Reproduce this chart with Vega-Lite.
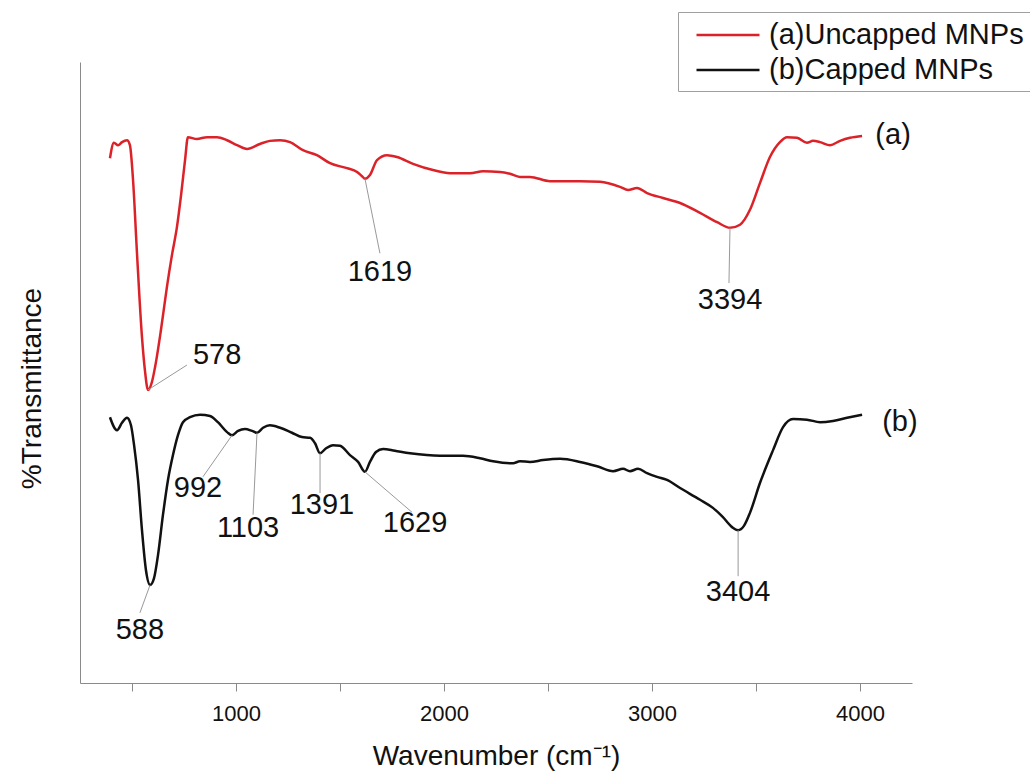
{
  "$schema": "https://vega.github.io/schema/vega-lite/v6.json",
  "autosize": {"type": "none"},
  "width": 832,
  "height": 621,
  "padding": {"left": 80, "top": 62, "right": 118, "bottom": 93},
  "background": "white",
  "config": {
    "font": "Liberation Sans",
    "view": {"stroke": null},
    "axis": {"grid": false, "domainColor": "#8a8a8a", "tickColor": "#8a8a8a", "labelColor": "#111", "titleColor": "#111", "titleFontWeight": "normal"}
  },
  "datasets": {
    "spectra": [
      {"series": "(a)Uncapped MNPs", "w": 394, "t": 84.5},
      {"series": "(a)Uncapped MNPs", "w": 413, "t": 87.0},
      {"series": "(a)Uncapped MNPs", "w": 433, "t": 86.6},
      {"series": "(a)Uncapped MNPs", "w": 452, "t": 87.1},
      {"series": "(a)Uncapped MNPs", "w": 476, "t": 87.4},
      {"series": "(a)Uncapped MNPs", "w": 490, "t": 86.6},
      {"series": "(a)Uncapped MNPs", "w": 505, "t": 81.0},
      {"series": "(a)Uncapped MNPs", "w": 524, "t": 69.2},
      {"series": "(a)Uncapped MNPs", "w": 548, "t": 55.7},
      {"series": "(a)Uncapped MNPs", "w": 562, "t": 50.4},
      {"series": "(a)Uncapped MNPs", "w": 577, "t": 47.2},
      {"series": "(a)Uncapped MNPs", "w": 596, "t": 48.5},
      {"series": "(a)Uncapped MNPs", "w": 611, "t": 50.9},
      {"series": "(a)Uncapped MNPs", "w": 639, "t": 56.8},
      {"series": "(a)Uncapped MNPs", "w": 668, "t": 63.8},
      {"series": "(a)Uncapped MNPs", "w": 692, "t": 68.9},
      {"series": "(a)Uncapped MNPs", "w": 716, "t": 73.4},
      {"series": "(a)Uncapped MNPs", "w": 736, "t": 78.6},
      {"series": "(a)Uncapped MNPs", "w": 755, "t": 84.2},
      {"series": "(a)Uncapped MNPs", "w": 769, "t": 87.9},
      {"series": "(a)Uncapped MNPs", "w": 812, "t": 87.6},
      {"series": "(a)Uncapped MNPs", "w": 861, "t": 87.9},
      {"series": "(a)Uncapped MNPs", "w": 909, "t": 87.9},
      {"series": "(a)Uncapped MNPs", "w": 957, "t": 87.4},
      {"series": "(a)Uncapped MNPs", "w": 1005, "t": 86.6},
      {"series": "(a)Uncapped MNPs", "w": 1053, "t": 86.0},
      {"series": "(a)Uncapped MNPs", "w": 1115, "t": 86.8},
      {"series": "(a)Uncapped MNPs", "w": 1163, "t": 87.3},
      {"series": "(a)Uncapped MNPs", "w": 1212, "t": 87.4},
      {"series": "(a)Uncapped MNPs", "w": 1260, "t": 87.1},
      {"series": "(a)Uncapped MNPs", "w": 1322, "t": 85.8},
      {"series": "(a)Uncapped MNPs", "w": 1389, "t": 85.0},
      {"series": "(a)Uncapped MNPs", "w": 1452, "t": 83.7},
      {"series": "(a)Uncapped MNPs", "w": 1534, "t": 82.9},
      {"series": "(a)Uncapped MNPs", "w": 1582, "t": 82.3},
      {"series": "(a)Uncapped MNPs", "w": 1606, "t": 81.6},
      {"series": "(a)Uncapped MNPs", "w": 1620, "t": 81.2},
      {"series": "(a)Uncapped MNPs", "w": 1644, "t": 81.8},
      {"series": "(a)Uncapped MNPs", "w": 1678, "t": 84.2},
      {"series": "(a)Uncapped MNPs", "w": 1726, "t": 85.0},
      {"series": "(a)Uncapped MNPs", "w": 1774, "t": 84.7},
      {"series": "(a)Uncapped MNPs", "w": 1851, "t": 83.6},
      {"series": "(a)Uncapped MNPs", "w": 1947, "t": 82.6},
      {"series": "(a)Uncapped MNPs", "w": 2029, "t": 82.1},
      {"series": "(a)Uncapped MNPs", "w": 2125, "t": 82.1},
      {"series": "(a)Uncapped MNPs", "w": 2188, "t": 82.4},
      {"series": "(a)Uncapped MNPs", "w": 2269, "t": 82.3},
      {"series": "(a)Uncapped MNPs", "w": 2317, "t": 82.0},
      {"series": "(a)Uncapped MNPs", "w": 2365, "t": 81.5},
      {"series": "(a)Uncapped MNPs", "w": 2413, "t": 81.5},
      {"series": "(a)Uncapped MNPs", "w": 2510, "t": 80.8},
      {"series": "(a)Uncapped MNPs", "w": 2654, "t": 80.8},
      {"series": "(a)Uncapped MNPs", "w": 2750, "t": 80.7},
      {"series": "(a)Uncapped MNPs", "w": 2846, "t": 79.9},
      {"series": "(a)Uncapped MNPs", "w": 2885, "t": 79.4},
      {"series": "(a)Uncapped MNPs", "w": 2928, "t": 79.7},
      {"series": "(a)Uncapped MNPs", "w": 2976, "t": 78.9},
      {"series": "(a)Uncapped MNPs", "w": 3053, "t": 78.1},
      {"series": "(a)Uncapped MNPs", "w": 3135, "t": 77.3},
      {"series": "(a)Uncapped MNPs", "w": 3231, "t": 75.7},
      {"series": "(a)Uncapped MNPs", "w": 3313, "t": 74.2},
      {"series": "(a)Uncapped MNPs", "w": 3375, "t": 73.3},
      {"series": "(a)Uncapped MNPs", "w": 3423, "t": 73.8},
      {"series": "(a)Uncapped MNPs", "w": 3471, "t": 76.2},
      {"series": "(a)Uncapped MNPs", "w": 3519, "t": 80.5},
      {"series": "(a)Uncapped MNPs", "w": 3567, "t": 84.7},
      {"series": "(a)Uncapped MNPs", "w": 3615, "t": 87.1},
      {"series": "(a)Uncapped MNPs", "w": 3649, "t": 87.9},
      {"series": "(a)Uncapped MNPs", "w": 3697, "t": 87.8},
      {"series": "(a)Uncapped MNPs", "w": 3745, "t": 87.0},
      {"series": "(a)Uncapped MNPs", "w": 3774, "t": 87.3},
      {"series": "(a)Uncapped MNPs", "w": 3808, "t": 87.1},
      {"series": "(a)Uncapped MNPs", "w": 3856, "t": 86.6},
      {"series": "(a)Uncapped MNPs", "w": 3904, "t": 87.3},
      {"series": "(a)Uncapped MNPs", "w": 3952, "t": 87.8},
      {"series": "(a)Uncapped MNPs", "w": 4010, "t": 88.1},
      {"series": "(b)Capped MNPs", "w": 394, "t": 42.8},
      {"series": "(b)Capped MNPs", "w": 428, "t": 40.7},
      {"series": "(b)Capped MNPs", "w": 452, "t": 41.9},
      {"series": "(b)Capped MNPs", "w": 476, "t": 42.7},
      {"series": "(b)Capped MNPs", "w": 495, "t": 41.5},
      {"series": "(b)Capped MNPs", "w": 510, "t": 38.3},
      {"series": "(b)Capped MNPs", "w": 529, "t": 32.7},
      {"series": "(b)Capped MNPs", "w": 548, "t": 24.6},
      {"series": "(b)Capped MNPs", "w": 567, "t": 18.2},
      {"series": "(b)Capped MNPs", "w": 587, "t": 15.8},
      {"series": "(b)Capped MNPs", "w": 606, "t": 16.9},
      {"series": "(b)Capped MNPs", "w": 625, "t": 20.6},
      {"series": "(b)Capped MNPs", "w": 649, "t": 27.1},
      {"series": "(b)Capped MNPs", "w": 673, "t": 32.7},
      {"series": "(b)Capped MNPs", "w": 697, "t": 36.7},
      {"series": "(b)Capped MNPs", "w": 721, "t": 39.9},
      {"series": "(b)Capped MNPs", "w": 745, "t": 42.0},
      {"series": "(b)Capped MNPs", "w": 779, "t": 42.8},
      {"series": "(b)Capped MNPs", "w": 827, "t": 43.2},
      {"series": "(b)Capped MNPs", "w": 875, "t": 43.0},
      {"series": "(b)Capped MNPs", "w": 913, "t": 42.0},
      {"series": "(b)Capped MNPs", "w": 957, "t": 40.4},
      {"series": "(b)Capped MNPs", "w": 981, "t": 39.9},
      {"series": "(b)Capped MNPs", "w": 1010, "t": 40.6},
      {"series": "(b)Capped MNPs", "w": 1043, "t": 40.9},
      {"series": "(b)Capped MNPs", "w": 1077, "t": 40.6},
      {"series": "(b)Capped MNPs", "w": 1101, "t": 40.3},
      {"series": "(b)Capped MNPs", "w": 1130, "t": 41.1},
      {"series": "(b)Capped MNPs", "w": 1163, "t": 41.5},
      {"series": "(b)Capped MNPs", "w": 1212, "t": 41.1},
      {"series": "(b)Capped MNPs", "w": 1269, "t": 40.3},
      {"series": "(b)Capped MNPs", "w": 1317, "t": 39.6},
      {"series": "(b)Capped MNPs", "w": 1356, "t": 39.5},
      {"series": "(b)Capped MNPs", "w": 1380, "t": 38.6},
      {"series": "(b)Capped MNPs", "w": 1404, "t": 37.0},
      {"series": "(b)Capped MNPs", "w": 1433, "t": 37.8},
      {"series": "(b)Capped MNPs", "w": 1466, "t": 38.3},
      {"series": "(b)Capped MNPs", "w": 1500, "t": 38.2},
      {"series": "(b)Capped MNPs", "w": 1548, "t": 36.7},
      {"series": "(b)Capped MNPs", "w": 1587, "t": 35.6},
      {"series": "(b)Capped MNPs", "w": 1620, "t": 34.0},
      {"series": "(b)Capped MNPs", "w": 1644, "t": 35.6},
      {"series": "(b)Capped MNPs", "w": 1673, "t": 37.2},
      {"series": "(b)Capped MNPs", "w": 1707, "t": 37.7},
      {"series": "(b)Capped MNPs", "w": 1764, "t": 37.4},
      {"series": "(b)Capped MNPs", "w": 1837, "t": 37.0},
      {"series": "(b)Capped MNPs", "w": 1981, "t": 36.6},
      {"series": "(b)Capped MNPs", "w": 2091, "t": 36.6},
      {"series": "(b)Capped MNPs", "w": 2173, "t": 36.2},
      {"series": "(b)Capped MNPs", "w": 2236, "t": 35.7},
      {"series": "(b)Capped MNPs", "w": 2317, "t": 35.4},
      {"series": "(b)Capped MNPs", "w": 2332, "t": 35.4},
      {"series": "(b)Capped MNPs", "w": 2365, "t": 35.7},
      {"series": "(b)Capped MNPs", "w": 2413, "t": 35.6},
      {"series": "(b)Capped MNPs", "w": 2476, "t": 35.9},
      {"series": "(b)Capped MNPs", "w": 2558, "t": 36.1},
      {"series": "(b)Capped MNPs", "w": 2654, "t": 35.6},
      {"series": "(b)Capped MNPs", "w": 2736, "t": 34.9},
      {"series": "(b)Capped MNPs", "w": 2813, "t": 34.1},
      {"series": "(b)Capped MNPs", "w": 2861, "t": 34.5},
      {"series": "(b)Capped MNPs", "w": 2894, "t": 34.1},
      {"series": "(b)Capped MNPs", "w": 2933, "t": 34.5},
      {"series": "(b)Capped MNPs", "w": 2976, "t": 33.8},
      {"series": "(b)Capped MNPs", "w": 3024, "t": 33.2},
      {"series": "(b)Capped MNPs", "w": 3072, "t": 32.7},
      {"series": "(b)Capped MNPs", "w": 3135, "t": 31.4},
      {"series": "(b)Capped MNPs", "w": 3231, "t": 29.5},
      {"series": "(b)Capped MNPs", "w": 3293, "t": 28.2},
      {"series": "(b)Capped MNPs", "w": 3341, "t": 26.7},
      {"series": "(b)Capped MNPs", "w": 3385, "t": 25.1},
      {"series": "(b)Capped MNPs", "w": 3414, "t": 24.6},
      {"series": "(b)Capped MNPs", "w": 3442, "t": 25.3},
      {"series": "(b)Capped MNPs", "w": 3471, "t": 27.4},
      {"series": "(b)Capped MNPs", "w": 3519, "t": 32.2},
      {"series": "(b)Capped MNPs", "w": 3582, "t": 37.5},
      {"series": "(b)Capped MNPs", "w": 3630, "t": 41.2},
      {"series": "(b)Capped MNPs", "w": 3678, "t": 42.5},
      {"series": "(b)Capped MNPs", "w": 3745, "t": 42.4},
      {"series": "(b)Capped MNPs", "w": 3808, "t": 42.0},
      {"series": "(b)Capped MNPs", "w": 3870, "t": 42.2},
      {"series": "(b)Capped MNPs", "w": 3938, "t": 42.7},
      {"series": "(b)Capped MNPs", "w": 4010, "t": 43.2}
    ],
    "leaders": [
      {"peak": "578", "w1": 577, "t1": 47.2, "w2": 764, "t2": 51.2},
      {"peak": "1619", "w1": 1620, "t1": 81.2, "w2": 1692, "t2": 69.2},
      {"peak": "3394", "w1": 3375, "t1": 73.3, "w2": 3370, "t2": 64.4},
      {"peak": "588", "w1": 587, "t1": 15.8, "w2": 538, "t2": 11.3},
      {"peak": "992", "w1": 981, "t1": 39.9, "w2": 841, "t2": 33.2},
      {"peak": "1103", "w1": 1101, "t1": 40.3, "w2": 1082, "t2": 27.1},
      {"peak": "1391", "w1": 1404, "t1": 37.0, "w2": 1404, "t2": 30.6},
      {"peak": "1629", "w1": 1620, "t1": 34.0, "w2": 1846, "t2": 27.5},
      {"peak": "3404", "w1": 3414, "t1": 24.6, "w2": 3414, "t2": 17.2}
    ],
    "labels": [
      {"label": "578", "w": 909, "t": 52.8},
      {"label": "1619", "w": 1692, "t": 66.2},
      {"label": "3394", "w": 3375, "t": 61.7},
      {"label": "588", "w": 538, "t": 8.5},
      {"label": "992", "w": 817, "t": 31.4},
      {"label": "1103", "w": 1058, "t": 25.0},
      {"label": "1391", "w": 1413, "t": 28.7},
      {"label": "1629", "w": 1861, "t": 25.8},
      {"label": "3404", "w": 3414, "t": 14.7},
      {"label": "(a)", "w": 4159, "t": 88.2},
      {"label": "(b)", "w": 4192, "t": 42.0}
    ]
  },
  "layer": [
    {
      "data": {"name": "spectra"},
      "mark": {"type": "line", "strokeWidth": 2.5, "interpolate": "monotone"},
      "encoding": {
        "x": {
          "field": "w", "type": "quantitative",
          "scale": {"domain": [250, 4250], "nice": false, "zero": false},
          "axis": {
            "title": "Wavenumber (cm⁻¹)",
            "values": [500, 1000, 1500, 2000, 2500, 3000, 3500, 4000],
            "format": "d",
            "labelExpr": "datum.value % 1000 === 0 ? datum.label : ''",
            "labelFontSize": 22,
            "labelPadding": 12,
            "tickSize": 8,
            "titleFontSize": 28,
            "titlePadding": 18
          }
        },
        "y": {
          "field": "t", "type": "quantitative",
          "scale": {"domain": [0, 100], "nice": false},
          "axis": {
            "title": "%Transmittance",
            "labels": false,
            "ticks": false,
            "titleFontSize": 28,
            "titlePadding": 34,
            "titleY": 326
          }
        },
        "color": {
          "field": "series", "type": "nominal",
          "scale": {"domain": ["(a)Uncapped MNPs", "(b)Capped MNPs"], "range": ["#dc2229", "#111111"]},
          "legend": {
            "title": null,
            "orient": "none",
            "legendX": 598,
            "legendY": -50,
            "symbolType": "M-2,0H2",
            "symbolSize": 992,
            "symbolStrokeWidth": 2.5,
            "symbolOffset": 27,
            "labelFontSize": 29,
            "labelLimit": 0,
            "labelColor": "#111",
            "labelOffset": 24,
            "rowPadding": 3,
            "padding": 6,
            "strokeColor": "#a0a0a0",
            "fillColor": "white"
          }
        }
      }
    },
    {
      "data": {"name": "leaders"},
      "mark": {"type": "rule", "color": "#999999", "strokeWidth": 1},
      "encoding": {
        "x": {"field": "w1", "type": "quantitative"},
        "y": {"field": "t1", "type": "quantitative"},
        "x2": {"field": "w2"},
        "y2": {"field": "t2"}
      }
    },
    {
      "data": {"name": "labels"},
      "mark": {"type": "text", "fontSize": 29, "align": "center", "baseline": "middle", "color": "#111"},
      "encoding": {
        "x": {"field": "w", "type": "quantitative"},
        "y": {"field": "t", "type": "quantitative"},
        "text": {"field": "label"}
      }
    }
  ]
}
